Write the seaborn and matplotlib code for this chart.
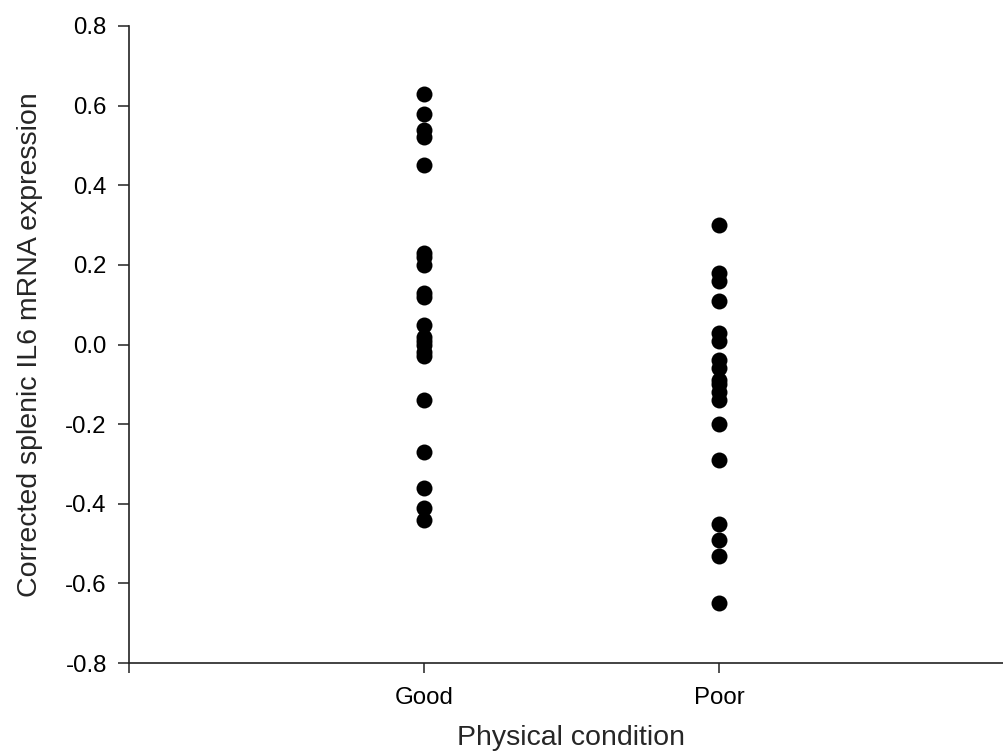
import matplotlib
matplotlib.use("Agg")
import matplotlib.pyplot as plt
import seaborn as sns
import pandas as pd

# Corrected splenic IL6 mRNA expression by physical condition
good_values = [0.63, 0.58, 0.54, 0.52, 0.45,
               0.23, 0.22, 0.20, 0.13, 0.12,
               0.05, 0.02, 0.01, 0.00, -0.02, -0.03,
               -0.14, -0.27, -0.36, -0.41, -0.44]
poor_values = [0.30, 0.18, 0.16, 0.11, 0.03, 0.01,
               -0.04, -0.06, -0.09, -0.10, -0.12, -0.14,
               -0.20, -0.29, -0.45, -0.49, -0.53, -0.65]
categories = ["Good", "Poor"]
y_ticks = [-0.8, -0.6, -0.4, -0.2, 0.0, 0.2, 0.4, 0.6, 0.8]

df = pd.DataFrame({
    "condition": ["Good"] * len(good_values) + ["Poor"] * len(poor_values),
    "expression": good_values + poor_values,
})

sns.set_style("ticks")
plt.rcParams["font.family"] = ["Liberation Sans", "DejaVu Sans"]

W, H = 1004, 752
fig = plt.figure(figsize=(W / 100, H / 100), dpi=100)
left_px, right_px, top_px, bottom_px = 129, 1014, 26, 663
ax = fig.add_axes([left_px / W, 1 - bottom_px / H,
                   (right_px - left_px) / W, (bottom_px - top_px) / H])

sns.stripplot(data=df, x="condition", y="expression", order=categories,
              jitter=False, color="black", size=11.5, linewidth=0, ax=ax)

ax.set_xlim(-1, 2)
ax.set_ylim(-0.8, 0.8)
ax.set_yticks(y_ticks)
ax.set_yticklabels([f"{t:.1f}" for t in y_ticks])
ax.set_xticks([-1, 0, 1])
ax.set_xticklabels(["", "Good", "Poor"])

for side in ("top", "right"):
    ax.spines[side].set_visible(False)
for side in ("left", "bottom"):
    ax.spines[side].set_linewidth(1.2)
    ax.spines[side].set_color("#222222")

ax.tick_params(axis="both", direction="out", width=1.1,
               color="#222222", labelsize=17.3, labelcolor="black")
ax.tick_params(axis="y", length=8, pad=8)
ax.tick_params(axis="x", length=7.5, pad=10)

ax.set_xlabel("Physical condition", fontsize=20.5, labelpad=11)
ax.set_ylabel("Corrected splenic IL6 mRNA expression", fontsize=20.5, labelpad=16)

fig.savefig("out.png", dpi=100)
